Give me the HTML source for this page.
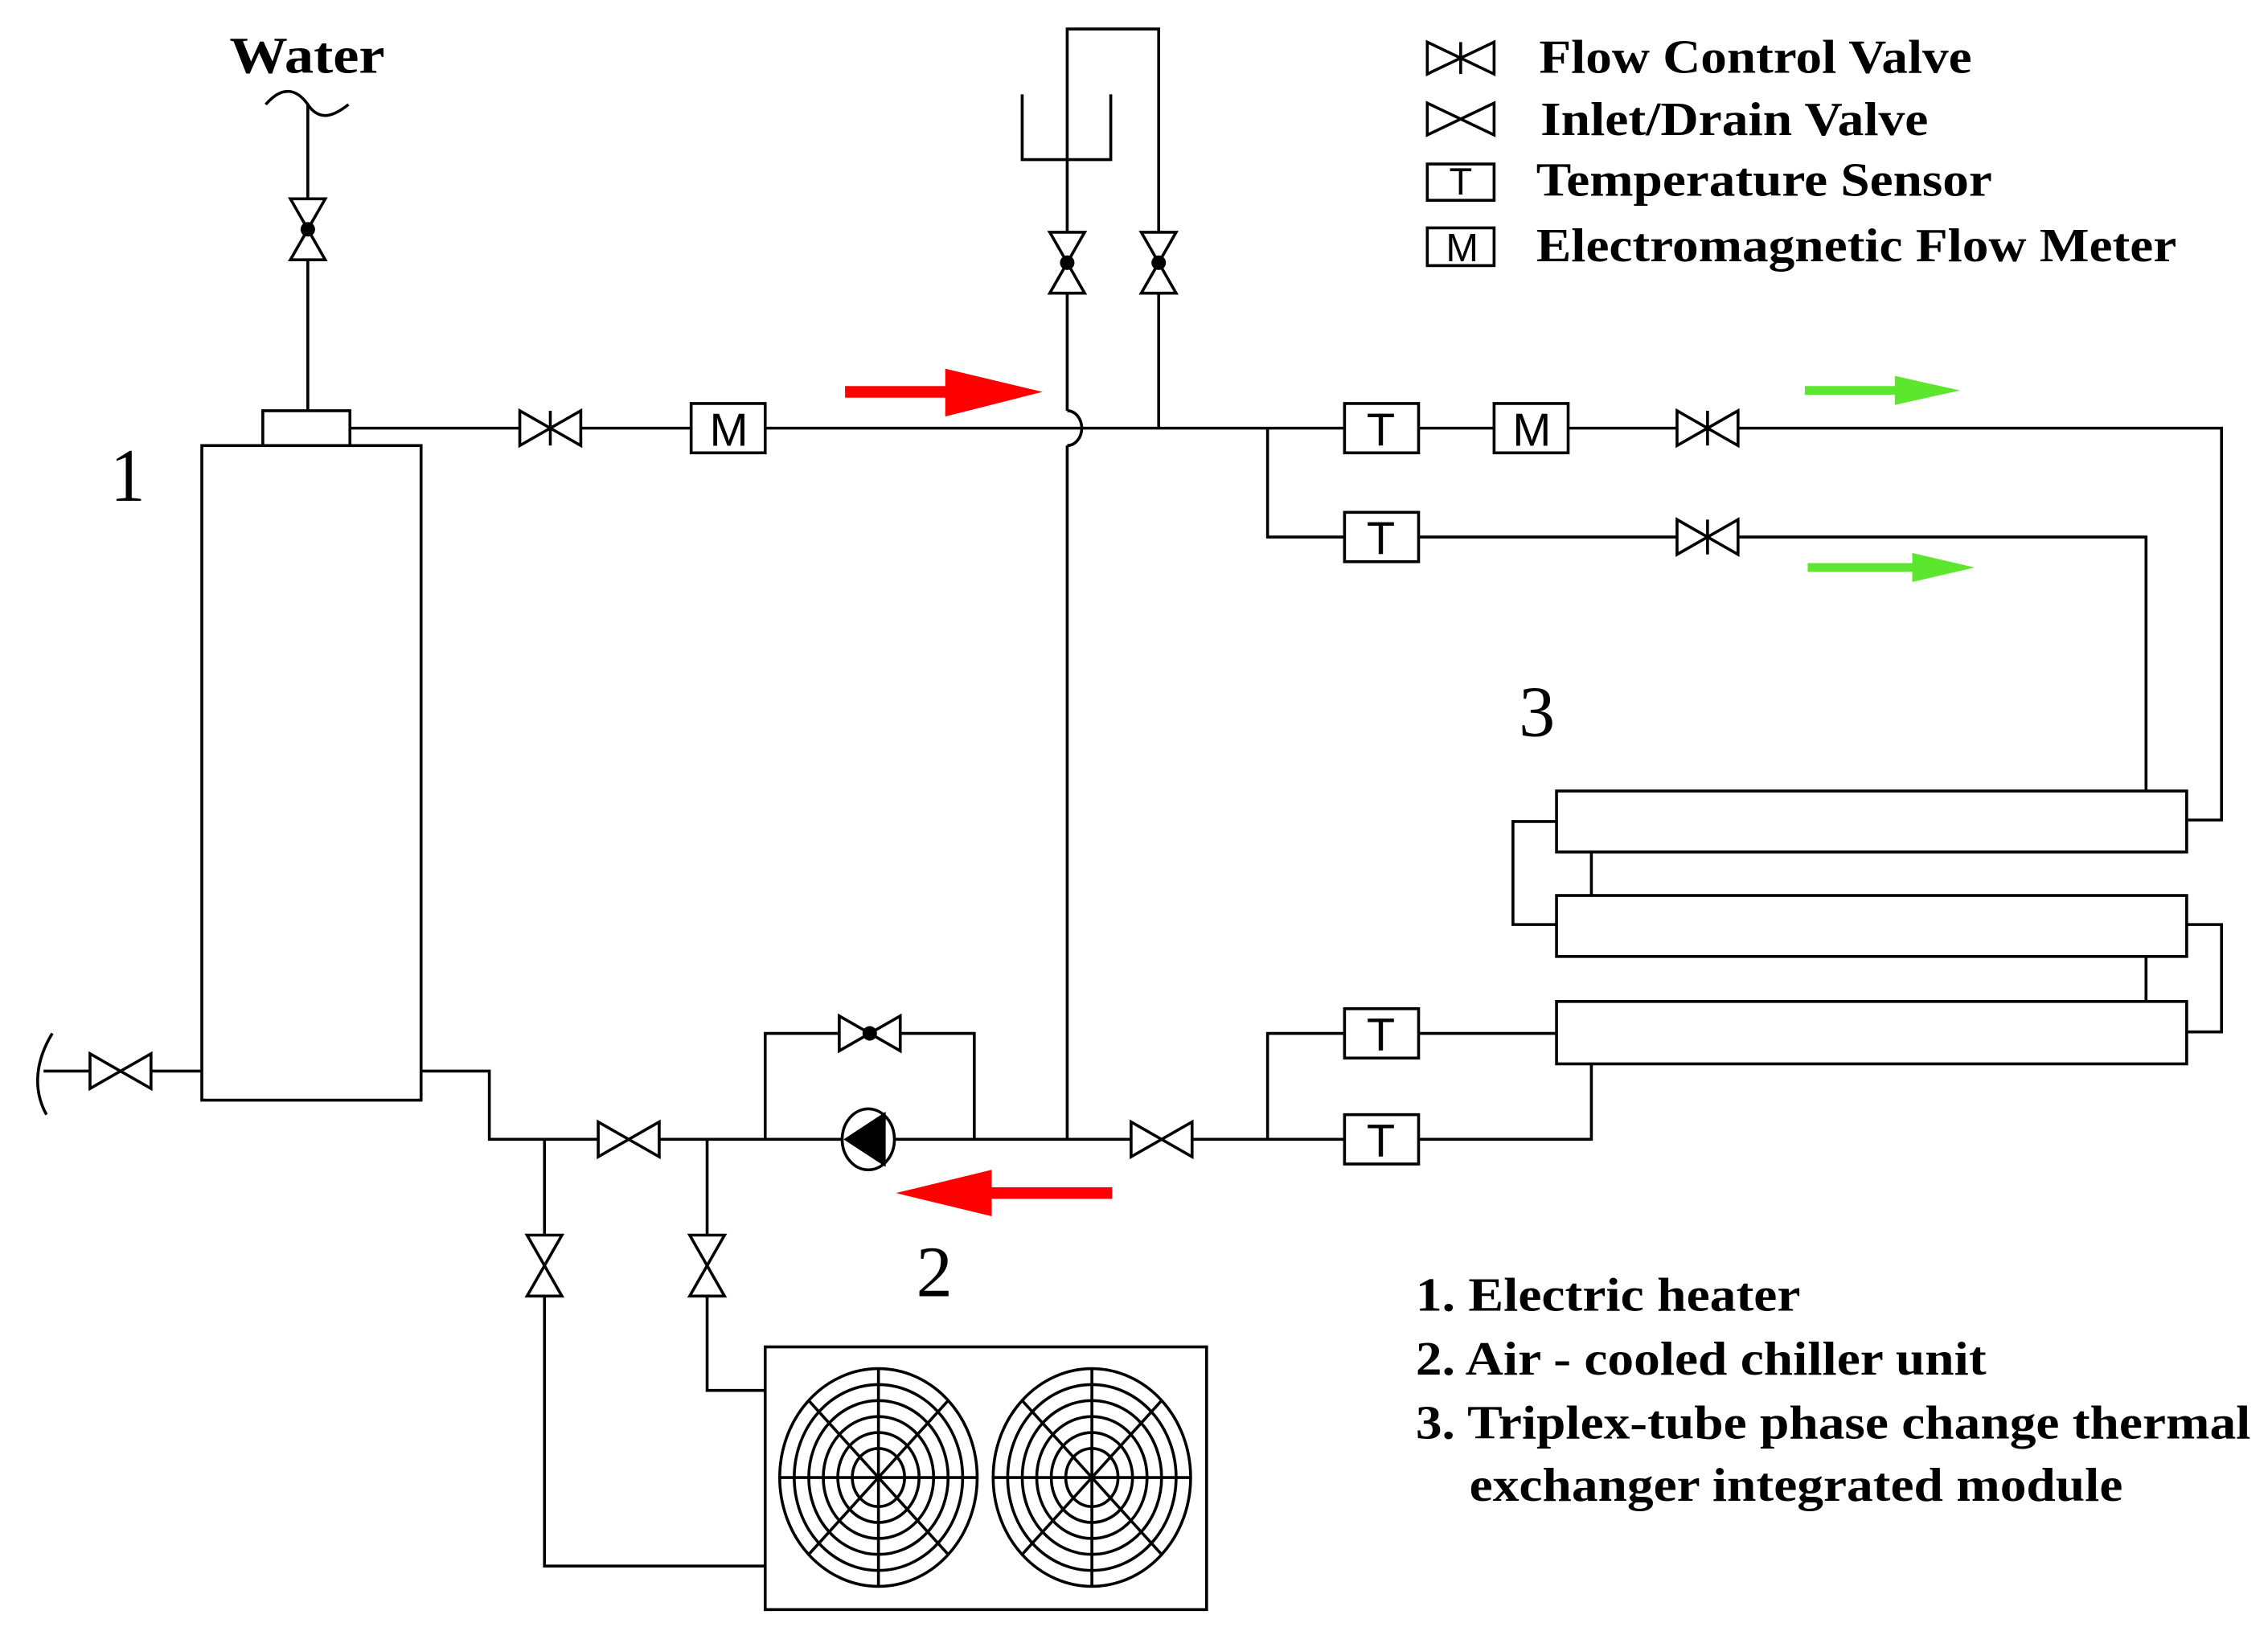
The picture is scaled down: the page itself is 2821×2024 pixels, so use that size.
<!DOCTYPE html>
<html><head><meta charset="utf-8"><style>
html,body{margin:0;padding:0;background:#fff}
svg{display:block}
text{font-family:"Liberation Serif",serif}
text.s{font-family:"Liberation Sans",sans-serif}
</style></head><body>
<svg width="2821" height="2024" viewBox="0 0 1562 1121" preserveAspectRatio="none" xmlns="http://www.w3.org/2000/svg">
<g fill="none" stroke="#000" stroke-width="2">
<path d="M183 72 C195 58 205 62 212 72 C220 84 230 80 240 72"/>
<line x1="212" y1="72" x2="212" y2="283"/>
<rect x="181" y="283" width="60" height="24" fill="#fff"/>
<rect x="139" y="307" width="151" height="451" fill="#fff"/>
<path d="M241 295 H1530 V565 H1507"/>
<path d="M735 283 A10 12 0 0 1 735 307"/>
<path d="M735 100 V283 M735 307 V785"/>
<path d="M704 65 V110 H765 V65"/>
<path d="M735 100 V20 H798 V295"/>
<path d="M873 295 V370 H1478 V545"/>
<rect x="1072" y="545" width="434" height="42" fill="#fff"/>
<rect x="1072" y="617" width="434" height="42" fill="#fff"/>
<rect x="1072" y="690" width="434" height="43" fill="#fff"/>
<path d="M1072 566 H1042 V637 H1072"/>
<path d="M1096 587 V617"/>
<path d="M1506 637 H1530 V711 H1506"/>
<path d="M1478 659 V690"/>
<path d="M1072 712 H873 V785"/>
<path d="M1096 733 V785 H337 V738 H290"/>
<path d="M36 712 C25 730 22 750 32 768"/>
<path d="M30 738 H139"/>
<path d="M527 785 V712 H671 V785"/>
<path d="M375 785 V1079 H527"/>
<path d="M487 785 V958 H527"/>
<rect x="527" y="928" width="304" height="181" fill="#fff"/>
<g>
<ellipse cx="605" cy="1018" rx="68" ry="75"/>
<ellipse cx="605" cy="1018" rx="58" ry="64"/>
<ellipse cx="605" cy="1018" rx="48" ry="53"/>
<ellipse cx="605" cy="1018" rx="38" ry="42"/>
<ellipse cx="605" cy="1018" rx="28" ry="31"/>
<ellipse cx="605" cy="1018" rx="18" ry="20"/>
<path d="M537 1018 H673 M605 943 V1093 M557 965 L653 1071 M653 965 L557 1071"/>
</g>
<g>
<ellipse cx="752" cy="1018" rx="68" ry="75"/>
<ellipse cx="752" cy="1018" rx="58" ry="64"/>
<ellipse cx="752" cy="1018" rx="48" ry="53"/>
<ellipse cx="752" cy="1018" rx="38" ry="42"/>
<ellipse cx="752" cy="1018" rx="28" ry="31"/>
<ellipse cx="752" cy="1018" rx="18" ry="20"/>
<path d="M684 1018 H820 M752 943 V1093 M704 965 L800 1071 M800 965 L704 1071"/>
</g>
</g>
<g fill="#fff" stroke="#000" stroke-width="2">
<path d="M358 283 L400 307 V283 L358 307 Z M379 283 V307"/>
<path d="M1155 283 L1197 307 V283 L1155 307 Z M1176 283 V307"/>
<path d="M1155 358 L1197 382 V358 L1155 382 Z M1176 358 V382"/>
<path d="M412 773 L454 797 V773 L412 797 Z"/>
<path d="M779 773 L821 797 V773 L779 797 Z"/>
<path d="M62 726 L104 750 V726 L62 750 Z"/>
<path d="M578 700 L620 724 V700 L578 724 Z"/>
<path d="M200 137 L224 179 H200 L224 137 Z"/>
<path d="M723 160 L747 202 H723 L747 160 Z"/>
<path d="M786 160 L810 202 H786 L810 160 Z"/>
<path d="M363 851 L387 893 H363 L387 851 Z"/>
<path d="M475 851 L499 893 H475 L499 851 Z"/>
<path d="M983 29 L1029 51 V29 L983 51 Z M1006 29 V51"/>
<path d="M983 71 L1029 93 V71 L983 93 Z"/>
<rect x="983" y="113" width="46" height="25"/>
<rect x="983" y="157" width="46" height="26"/>
<rect x="476" y="278" width="51" height="34"/>
<rect x="926" y="278" width="51" height="34"/>
<rect x="1029" y="278" width="51" height="34"/>
<rect x="926" y="353" width="51" height="34"/>
<rect x="926" y="695" width="51" height="34"/>
<rect x="926" y="768" width="51" height="34"/>
<ellipse cx="598" cy="785" rx="18" ry="21"/>
</g>
<g fill="#000">
<circle cx="212" cy="158" r="5"/>
<circle cx="735" cy="181" r="5"/>
<circle cx="798" cy="181" r="5"/>
<circle cx="599" cy="712" r="5"/>
<path d="M581 785 L610 766 V804 Z"/>
</g>
<g font-size="32" text-anchor="middle" fill="#000">
<text class="s" x="502" y="307">M</text>
<text class="s" x="1055" y="307">M</text>
<text class="s" x="951" y="307">T</text>
<text class="s" x="951" y="382">T</text>
<text class="s" x="951" y="724">T</text>
<text class="s" x="951" y="797">T</text>
<text class="s" x="1006" y="134" font-size="26">T</text>
<text class="s" x="1007" y="180" font-size="27">M</text>
</g>
<g fill="#f00">
<rect x="582" y="266" width="72" height="8"/>
<path d="M651 254 L718 270 L651 287 Z"/>
<rect x="680" y="818" width="86" height="8"/>
<path d="M683 806 L617 822 L683 838 Z"/>
</g>
<g fill="#5ce62e">
<rect x="1243" y="266" width="65" height="6"/>
<path d="M1305 259 L1350 269 L1305 279 Z"/>
<rect x="1245" y="388" width="75" height="6"/>
<path d="M1317 381 L1360 391 L1317 401 Z"/>
</g>
<g fill="#000">
<text x="158" y="50" font-size="36" font-weight="bold" textLength="107" lengthAdjust="spacingAndGlyphs">Water</text>
<text x="76" y="345" font-size="52" textLength="24" lengthAdjust="spacingAndGlyphs">1</text>
<text x="1046" y="507" font-size="50">3</text>
<text x="631" y="893" font-size="50">2</text>
<g font-size="33" font-weight="bold">
<text x="1060" y="50" textLength="298" lengthAdjust="spacingAndGlyphs">Flow Control Valve</text>
<text x="1061" y="93" textLength="267" lengthAdjust="spacingAndGlyphs">Inlet/Drain Valve</text>
<text x="1058" y="135" textLength="314" lengthAdjust="spacingAndGlyphs">Temperature Sensor</text>
<text x="1058" y="180" textLength="441" lengthAdjust="spacingAndGlyphs">Electromagnetic Flow Meter</text>
<text x="975" y="903" textLength="265" lengthAdjust="spacingAndGlyphs">1. Electric heater</text>
<text x="975" y="947" textLength="393" lengthAdjust="spacingAndGlyphs">2. Air - cooled chiller unit</text>
<text x="975" y="991" textLength="575" lengthAdjust="spacingAndGlyphs">3. Triplex-tube phase change thermal</text>
<text x="1012" y="1034" textLength="450" lengthAdjust="spacingAndGlyphs">exchanger integrated module</text>
</g>
</g>
</svg>
</body></html>
